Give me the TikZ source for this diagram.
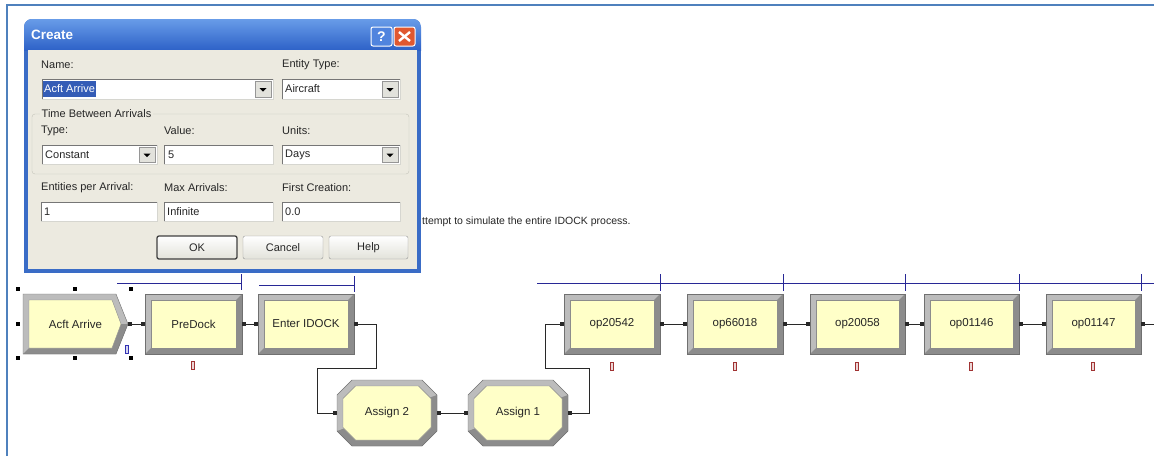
\documentclass[tikz,border=0pt]{standalone}
\usepackage{fontspec}
\setmainfont{Liberation Sans}
\usetikzlibrary{arrows.meta}

\definecolor{framebl}{RGB}{79,129,189}
\definecolor{dlgblue}{RGB}{58,108,198}
\definecolor{titletop}{RGB}{104,156,232}
\definecolor{titlebot}{RGB}{46,98,200}
\definecolor{dlgbody}{RGB}{236,234,224}
\definecolor{grpline}{RGB}{196,196,186}
\definecolor{fielddark}{RGB}{118,118,118}
\definecolor{fieldlight}{RGB}{214,214,208}
\definecolor{selblue}{RGB}{52,92,182}
\definecolor{btnface}{RGB}{226,226,220}
\definecolor{btnedge}{RGB}{150,150,150}
\definecolor{btnbot}{RGB}{226,226,218}
\definecolor{armyellow}{RGB}{255,255,200}
\definecolor{bevlight}{RGB}{188,188,188}
\definecolor{bevdark}{RGB}{140,140,140}
\definecolor{bevline}{RGB}{112,112,112}
\definecolor{queueblue}{RGB}{40,40,150}
\definecolor{connline}{RGB}{40,40,40}
\definecolor{cntred}{RGB}{160,50,50}
\definecolor{cntblue}{RGB}{50,50,180}
\definecolor{helpblue}{RGB}{80,132,222}
\definecolor{closered}{RGB}{224,88,48}

% Arena process-style module: bevelled rectangle with a named node on top
\newcommand\ArRect[6]{%
  \fill[bevlight] (#2,#3) rectangle (#4,#5);
  \fill[bevdark] (#4,#3) -- (#4,#5) -- (#2,#5) -- ({#2+6},{#5-6}) -- ({#4-6},{#5-6}) -- ({#4-6},{#3+6}) -- cycle;
  \draw[bevline] (#2,#3) rectangle (#4,#5);
  \filldraw[fill=armyellow,draw=bevdark] ({#2+6},{#3+6}) rectangle ({#4-6},{#5-6});
  \node[modlabel,minimum width={(#4-#2)*1pt},minimum height={(#5-#3)*1pt}] (#1) at ({(#2+#4)/2},{(#3+#5)/2}) {#6};
}
% Assign-style module: bevelled octagon
\newcommand\ArOct[6]{%
  \fill[bevlight] ({#2+15},#3) -- ({#4-15},#3) -- (#4,{#3+15}) -- (#4,{#5-15}) -- ({#4-15},#5) -- ({#2+15},#5) -- (#2,{#5-15}) -- (#2,{#3+15}) -- cycle;
  \fill[bevdark] (#4,{#3+15}) -- (#4,{#5-15}) -- ({#4-15},#5) -- ({#2+15},#5) -- (#2,{#5-15}) -- ({(#2+#4)/2},{(#3+#5)/2}) -- cycle;
  \draw[bevline] ({#2+15},#3) -- ({#4-15},#3) -- (#4,{#3+15}) -- (#4,{#5-15}) -- ({#4-15},#5) -- ({#2+15},#5) -- (#2,{#5-15}) -- (#2,{#3+15}) -- cycle;
  \filldraw[fill=armyellow,draw=bevdark] ({#2+18.5},{#3+6}) -- ({#4-18.5},{#3+6}) -- ({#4-6},{#3+18.5}) -- ({#4-6},{#5-18.5}) -- ({#4-18.5},{#5-6}) -- ({#2+18.5},{#5-6}) -- ({#2+6},{#5-18.5}) -- ({#2+6},{#3+18.5}) -- cycle;
  \node[modlabel,minimum width={(#4-#2)*1pt},minimum height={(#5-#3)*1pt}] (#1) at ({(#2+#4)/2},{(#3+#5)/2}) {#6};
}
\newcommand\Handle[2]{\fill[black] ({#1-2},{#2-2}) rectangle ({#1+2},{#2+2});}
\newcommand\CounterBar[3]{\filldraw[fill=#3!20,draw=#3,line width=0.9pt] ({#1-1.5},#2) rectangle ({#1+1.5},{#2+8});}
% sunken edit field
\newcommand\FieldBox[4]{%
  \fill[white] (#1,#2) rectangle (#3,#4);
  \draw[fieldlight] (#1,#4) -- (#3,#4) -- (#3,#2);
  \draw[fielddark] (#1,#4) -- (#1,#2) -- (#3,#2);
}
% drop-down arrow button at the right end of a field
\newcommand\DropBtn[4]{%
  \filldraw[fill=btnface,draw=btnedge] ({#3-18},{#2+2}) rectangle ({#3-2},{#4-2});
  \fill[black] ({#3-13.5},{(#2+#4)/2-1}) -- ({#3-6.5},{(#2+#4)/2-1}) -- ({#3-10},{(#2+#4)/2+2.5}) -- cycle;
}
\newcommand\DlgButton[7]{%
  \shade[top color=white,bottom color=btnbot,rounded corners=2pt] (#2,#3) rectangle (#4,#5);
  \draw[#7,rounded corners=2pt] (#2,#3) rectangle (#4,#5);
  \node[btntxt] (#1) at ({(#2+#4)/2},{(#3+#5)/2}) {#6};
}

\begin{document}
\begin{tikzpicture}[x=1pt,y=-1pt,
  modlabel/.style={inner sep=0pt,font=\fontsize{11.5}{13}\selectfont,text=black!85},
  conn/.style={draw=connline,line width=1pt,{Square[length=4pt,width=4pt]}-{Square[length=4pt,width=4pt]}},
  connout/.style={draw=connline,line width=1pt,{Square[length=4pt,width=4pt]}-},
  queue/.style={draw=queueblue,line width=1pt},
  dlgtxt/.style={anchor=west,inner sep=0pt,font=\fontsize{11}{13}\selectfont,text=black!85},
  btntxt/.style={inner sep=0pt,font=\fontsize{11}{13}\selectfont,text=black!85},
  cmt/.style={anchor=west,inner sep=0pt,font=\fontsize{10.5}{12}\selectfont,text=black!85}]

\useasboundingbox (0,0) rectangle (1154,456);
\fill[white] (0,0) rectangle (1154,456);

% window frame
\draw[framebl,line width=2.5pt] (7,456) -- (7,5) -- (1154,5);

% queue animations
\draw[queue] (117,283) -- (241,283) (241,274) -- (241,290);
\draw[queue] (259,285) -- (354,285) (354,276) -- (354,292);
\draw[queue] (537,283) -- (1154,283);
\foreach \qx in {660,783,905,1019,1141} \draw[queue] (\qx,274) -- (\qx,291);

% Create module (chevron), selected
\fill[bevlight] (23,294) -- (116,294) -- (128,324) -- (116,354) -- (23,354) -- cycle;
\fill[bevdark] (128,324) -- (116,354) -- (23,354) -- (29,348) -- (112,348) -- (121,324) -- cycle;
\draw[bevline] (23,294) -- (116,294) -- (128,324) -- (116,354) -- (23,354) -- cycle;
\filldraw[fill=armyellow,draw=bevdark] (29,300) -- (112,300) -- (121,324) -- (112,348) -- (29,348) -- cycle;
\node[modlabel,minimum width=105pt,minimum height=60pt] (acft) at (75.5,324) {Acft Arrive};
\Handle{18}{289}\Handle{75}{289}\Handle{131}{289}
\Handle{18}{324}
\Handle{18}{358}\Handle{75}{358}\Handle{131}{358}
\CounterBar{127}{345}{cntblue}

% process modules
\ArRect{predock}{145}{294}{242}{354}{PreDock}
\ArRect{enter}{258}{294}{354}{354}{Enter IDOCK}
\ArOct{assigntwo}{337}{380}{437}{446}{Assign 2}
\ArOct{assignone}{468}{380}{568}{446}{Assign 1}
\ArRect{opa}{564}{294}{660}{354}{op20542}
\ArRect{opb}{687}{294}{783}{354}{op66018}
\ArRect{opc}{810}{294}{905}{354}{op20058}
\ArRect{opd}{924}{294}{1019}{354}{op01146}
\ArRect{ope}{1046}{294}{1141}{354}{op01147}

\CounterBar{193}{361}{cntred}
\CounterBar{612}{362}{cntred}
\CounterBar{735}{362}{cntred}
\CounterBar{857}{362}{cntred}
\CounterBar{971}{362}{cntred}
\CounterBar{1093}{362}{cntred}

% connectors
\draw[conn] (acft.east) -- (predock.west);
\draw[conn] (predock.east) -- (enter.west);
\draw[conn] (enter.east) -- ++(22,0) -- ++(0,44) -- ++(-59,0) |- (assigntwo.west);
\draw[conn] (assigntwo.east) -- (assignone.west);
\draw[conn] (assignone.east) -- ++(21,0) -- ++(0,-45) -- ++(-44,0) |- (opa.west);
\draw[conn] (opa.east) -- (opb.west);
\draw[conn] (opb.east) -- (opc.west);
\draw[conn] (opc.east) -- (opd.west);
\draw[conn] (opd.east) -- (ope.west);
\coordinate (flowout) at (1154,324);
\draw[connout] (ope.east) -- (flowout);

% model note
\node[cmt] (note) at (422,222) {ttempt to simulate the entire IDOCK process.};

% ---- Create dialog ----
\begin{scope}
  \clip[rounded corners=8pt] (24,19) rectangle (421,300);
  \fill[dlgblue] (24,19) rectangle (421,273);
  \shade[top color=titletop,bottom color=titlebot] (24,19) rectangle (421,50);
\end{scope}
\fill[dlgbody] (28,50) rectangle (417,269);
\node[anchor=west,inner sep=0pt,font=\bfseries\fontsize{13.5}{15}\selectfont,text=white] (dlgtitle) at (31,35) {Create};

% title bar buttons
\filldraw[fill=helpblue,draw=white,line width=1pt,rounded corners=2pt] (371,27) rectangle (392,46);
\node[inner sep=0pt,font=\bfseries\fontsize{14}{15}\selectfont,text=white] (helpq) at (381.5,36.5) {?};
\filldraw[fill=closered,draw=white,line width=1pt,rounded corners=2pt] (394,27) rectangle (415,46);
\draw[white,line width=2.4pt] (399,32) -- (410,41) (410,32) -- (399,41);

% name / entity type
\node[dlgtxt] (lname) at (41,65) {Name:};
\node[dlgtxt] (lentity) at (282,65) {Entity Type:};
\FieldBox{42}{79}{273}{99}
\fill[selblue] (43,81) rectangle (96,97);
\node[dlgtxt,text=white] (vname) at (44,89) {Acft Arrive};
\DropBtn{42}{79}{273}{99}
\FieldBox{282}{79}{400}{99}
\node[dlgtxt] (ventity) at (285,89) {Aircraft};
\DropBtn{282}{79}{400}{99}

% time between arrivals group
\draw[grpline,rounded corners=3pt] (32,114) rectangle (409,174);
\node[dlgtxt,fill=dlgbody,inner xsep=1.5pt] (lgroup) at (40,114) {Time Between Arrivals};
\node[dlgtxt] (ltype) at (41,131) {Type:};
\node[dlgtxt] (lvalue) at (164,131) {Value:};
\node[dlgtxt] (lunits) at (282,131) {Units:};
\FieldBox{42}{145}{157}{164}
\node[dlgtxt] (vtype) at (45,155) {Constant};
\DropBtn{42}{145}{157}{164}
\FieldBox{164}{145}{273}{164}
\node[dlgtxt] (vvalue) at (168,155) {5};
\FieldBox{282}{145}{400}{164}
\node[dlgtxt] (vunits) at (285,155) {Days};
\DropBtn{282}{145}{400}{164}

% arrivals
\node[dlgtxt] (lper) at (41,188) {Entities per Arrival:};
\node[dlgtxt] (lmax) at (164,188) {Max Arrivals:};
\node[dlgtxt] (lfirst) at (282,188) {First Creation:};
\FieldBox{41}{202}{157}{221}
\node[dlgtxt] (vper) at (44,212) {1};
\FieldBox{164}{202}{273}{221}
\node[dlgtxt] (vmax) at (167,212) {Infinite};
\FieldBox{282}{202}{400}{221}
\node[dlgtxt] (vfirst) at (285,212) {0.0};

% buttons
\DlgButton{bok}{157}{236}{237}{259}{OK}{black!75,line width=1.3pt}
\DlgButton{bcancel}{243}{236}{323}{259}{Cancel}{btnedge}
\DlgButton{bhelp}{329}{236}{408}{259}{Help}{btnedge}

\end{tikzpicture}
\end{document}
